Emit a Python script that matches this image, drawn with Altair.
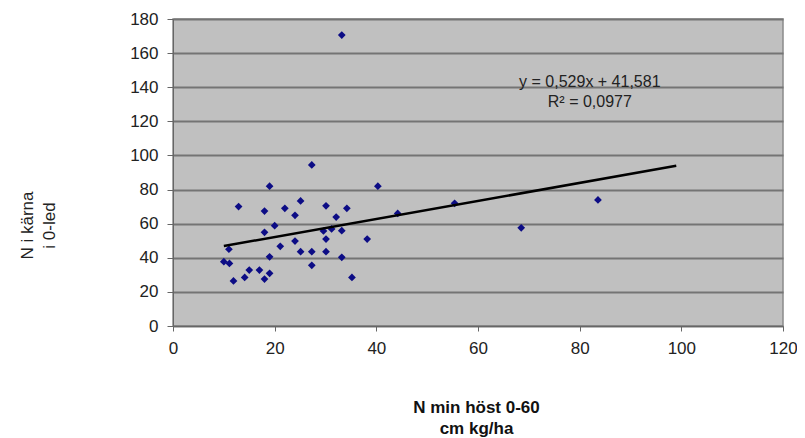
import altair as alt
import pandas as pd

# Scatter data (N min höst 0-60 cm kg/ha  vs  N i kärna i 0-led)
x_vals = [27.3, 19.0, 40.3, 12.9, 18.0, 22.0, 25.1, 24.0, 30.1, 34.2,
          32.1, 20.0, 18.0, 29.6, 31.2, 33.2, 30.1, 38.2, 24.0, 21.1,
          11.0, 25.1, 27.3, 30.1, 19.0, 33.2, 27.3, 10.0, 11.1, 15.0,
          17.0, 19.0, 14.1, 18.0, 11.9, 35.2, 44.2, 55.4, 68.5, 83.6,
          33.2]
y_vals = [94.4, 82.0, 82.0, 70.0, 67.4, 69.0, 73.3, 64.9, 70.5, 69.0,
          63.9, 58.8, 54.9, 55.7, 56.9, 55.9, 51.0, 51.0, 49.8, 46.7,
          45.0, 43.6, 43.6, 43.6, 40.6, 40.3, 35.6, 37.7, 36.7, 32.8,
          32.8, 30.9, 28.5, 27.5, 26.4, 28.5, 66.0, 71.9, 57.6, 73.9,
          170.6]

# Trendline as printed on the chart
slope = 0.529
intercept = 41.581
trend_x = [10, 99]

eq_lines = ["y = 0,529x  + 41,581", "R² = 0,0977"]
eq_x = [82, 82]
eq_y = [143.3, 131.6]

x_ticks = [0, 20, 40, 60, 80, 100, 120]
y_ticks = [0, 20, 40, 60, 80, 100, 120, 140, 160, 180]

FONT = "Liberation Sans"

pts = pd.DataFrame({"x": x_vals, "y": y_vals})
trend = pd.DataFrame({"x": trend_x, "y": [slope * v + intercept for v in trend_x]})
eq = pd.DataFrame({"x": eq_x, "y": eq_y, "t": eq_lines})

xscale = alt.Scale(domain=[0, 120], nice=False, zero=True)
yscale = alt.Scale(domain=[0, 180], nice=False, zero=True)

xaxis = alt.Axis(values=x_ticks, tickCount=7, grid=False, title=["N min höst 0-60", "cm kg/ha"],
                 titleFont=FONT, titleFontSize=17, titleFontWeight="bold", titleColor="#111",
                 titleLineHeight=21, titleX=303, titleY=81, titleBaseline="middle",
                 labelFont=FONT, labelFontSize=17, labelColor="#222", labelPadding=9,
                 labelOverlap=False,
                 tickSize=5, tickColor="#666", domainColor="#666", labelFlush=False)
yaxis = alt.Axis(values=y_ticks, tickCount=10, grid=True, gridColor="#747474", gridWidth=1.8,
                 title=["N i kärna", "i 0-led"], titleAngle=270,
                 titleFont=FONT, titleFontSize=17, titleFontWeight="normal", titleColor="#222",
                 titleLineHeight=22, titleX=-146, titleY=206, titleBaseline="middle", titleAlign="center",
                 labelFont=FONT, labelFontSize=17, labelColor="#222", labelPadding=9,
                 labelOverlap=False,
                 tickSize=6, tickColor="#666", domainColor="#666", labelFlush=False)

points = alt.Chart(pts).mark_point(shape="diamond", filled=True, size=60, color="#0c0c85", opacity=1).encode(
    x=alt.X("x:Q", scale=xscale, axis=xaxis),
    y=alt.Y("y:Q", scale=yscale, axis=yaxis),
)

line = alt.Chart(trend).mark_line(color="#000000", strokeWidth=2.5).encode(
    x=alt.X("x:Q", scale=xscale, axis=xaxis),
    y=alt.Y("y:Q", scale=yscale, axis=yaxis),
)

label = alt.Chart(eq).mark_text(font=FONT, fontSize=16, color="#222", align="center", baseline="middle").encode(
    x=alt.X("x:Q", scale=xscale, axis=xaxis),
    y=alt.Y("y:Q", scale=yscale, axis=yaxis),
    text="t:N",
)

chart = alt.layer(points, line, label).properties(
    width=610, height=307,
    autosize=alt.AutoSizeParams(type="none"),
    padding={"left": 165, "top": 11, "right": 14, "bottom": 112},
    background="#ffffff",
).configure_view(fill="#c0c0c0", stroke="#8a8a8a", strokeWidth=1.5)

chart.save("out.html", embed_options={"renderer": "svg", "actions": False})
